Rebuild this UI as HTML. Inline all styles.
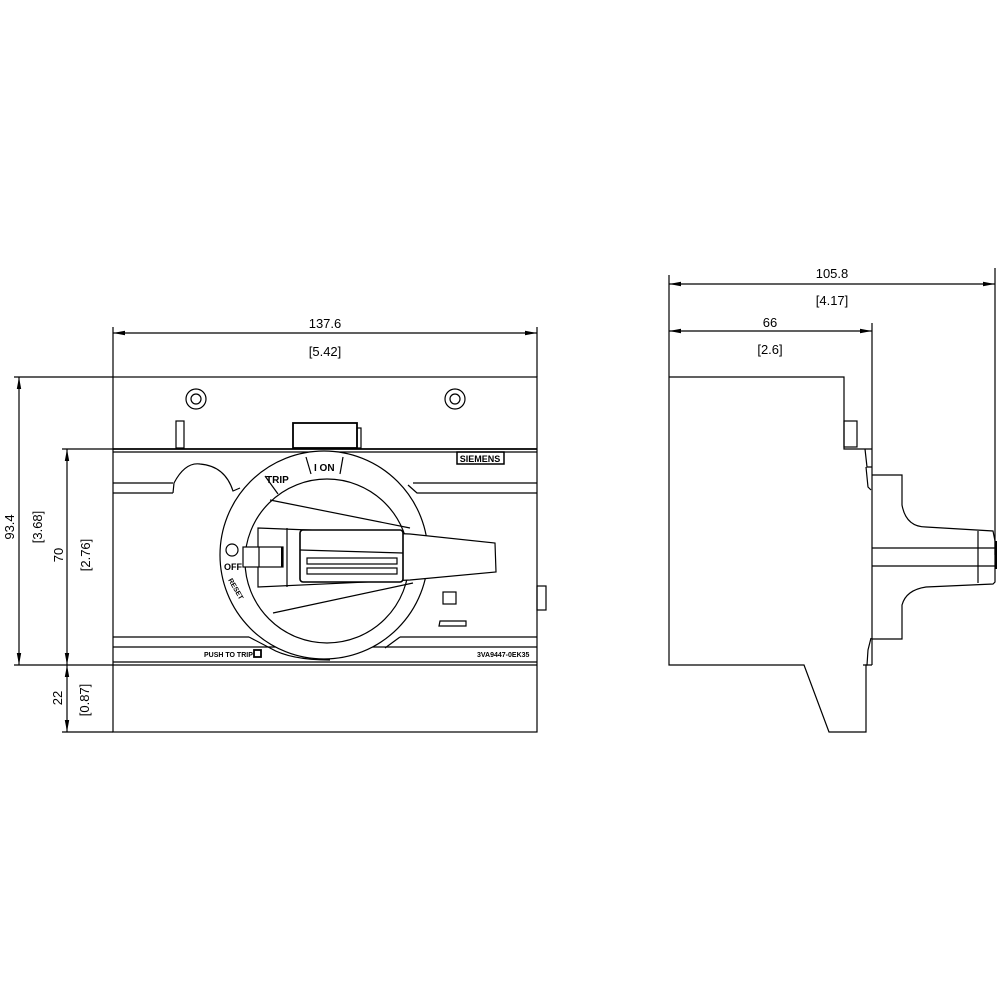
<!DOCTYPE html>
<html><head><meta charset="utf-8"><style>
html,body{margin:0;padding:0;background:#fff;}
svg{display:block;}
text{font-family:"Liberation Sans",sans-serif;fill:#000;}
</style></head><body>
<svg width="1000" height="1000" viewBox="0 0 1000 1000" xmlns="http://www.w3.org/2000/svg">
<defs>
<marker id="a" viewBox="0 0 12 6" refX="12" refY="3" markerWidth="12" markerHeight="6" markerUnits="userSpaceOnUse" orient="auto-start-reverse"><path d="M12,3 L0,0.8 L0,5.2 Z" fill="#000"/></marker>
</defs>
<g fill="none" stroke="#000" stroke-width="1.2">
<!-- FRONT dims -->
<line x1="113" y1="327" x2="113" y2="377"/>
<line x1="537" y1="327" x2="537" y2="377"/>
<line x1="113" y1="333" x2="537" y2="333" marker-start="url(#a)" marker-end="url(#a)"/>
<line x1="14" y1="377" x2="113" y2="377"/>
<line x1="62" y1="449" x2="113" y2="449"/>
<line x1="14" y1="665" x2="113" y2="665"/>
<line x1="62" y1="732" x2="113" y2="732"/>
<line x1="19" y1="377" x2="19" y2="665" marker-start="url(#a)" marker-end="url(#a)"/>
<line x1="67" y1="449" x2="67" y2="665" marker-start="url(#a)" marker-end="url(#a)"/>
<line x1="67" y1="665" x2="67" y2="732" marker-start="url(#a)" marker-end="url(#a)"/>
<!-- FRONT body -->
<rect x="113" y="377" width="424" height="355"/>
<line x1="113" y1="449" x2="537" y2="449" stroke-width="1.8"/>
<line x1="113" y1="452" x2="537" y2="452"/>
<line x1="113" y1="483" x2="173" y2="483"/>
<line x1="113" y1="493" x2="173" y2="493"/>
<path d="M173,493 L174,483 Q185,462 200,464 Q225,466 233,491 L240,488"/>
<line x1="413" y1="483" x2="537" y2="483"/>
<path d="M408,485 L417,493 L537,493"/>
<line x1="113" y1="637" x2="249" y2="637"/>
<line x1="400" y1="637" x2="537" y2="637"/>
<line x1="113" y1="647" x2="537" y2="647"/>
<line x1="113" y1="662" x2="537" y2="662"/>
<line x1="113" y1="665" x2="537" y2="665"/>
<circle cx="196" cy="399" r="10"/><circle cx="196" cy="399" r="5"/>
<circle cx="455" cy="399" r="10"/><circle cx="455" cy="399" r="5"/>
<rect x="176" y="421" width="8" height="27"/>
<rect x="293" y="423" width="64" height="25" stroke-width="1.8"/>
<rect x="357" y="428" width="4" height="20"/>
<rect x="457" y="452" width="47" height="12" stroke-width="1.5"/>
<rect x="443" y="592" width="13" height="12"/>
<path d="M440,621 L466,621 L466,626 L439,626 Z"/>
<rect x="537" y="586" width="9" height="24"/>
<rect x="254" y="650" width="7" height="7" stroke-width="1.8"/>
<!-- dial -->
<circle cx="324" cy="555" r="104" fill="#fff"/>
<circle cx="327" cy="561" r="82"/>
<path d="M249,637 L270,648 Q290,660 330,660"/>
<path d="M400,637 L385,648"/>
<line x1="265" y1="476" x2="278" y2="494"/>
<line x1="306" y1="457" x2="311" y2="474"/>
<line x1="343" y1="457" x2="340" y2="474"/>
<line x1="270" y1="500" x2="410" y2="528"/>
<line x1="273" y1="613" x2="413" y2="583"/>
<!-- handle -->
<path d="M258,528 L410,534 L495,543 L496,572 L410,580 L258,587 Z" fill="#fff"/>
<line x1="287" y1="528" x2="287" y2="587"/>
<rect x="243" y="547" width="40" height="20" fill="#fff"/>
<line x1="259" y1="547" x2="259" y2="567"/>
<line x1="282" y1="547" x2="282" y2="567" stroke-width="2"/>
<rect x="300" y="530" width="103" height="52" rx="3" stroke-width="1.6" fill="#fff"/>
<line x1="300" y1="550" x2="403" y2="553"/>
<rect x="307" y="558" width="90" height="6"/>
<rect x="307" y="568" width="90" height="6"/>
<circle cx="232" cy="550" r="6"/>
<!-- SIDE dims -->
<line x1="669" y1="275" x2="669" y2="377"/>
<line x1="995" y1="268" x2="995" y2="555"/>
<line x1="872" y1="323" x2="872" y2="665"/>
<line x1="669" y1="284" x2="995" y2="284" marker-start="url(#a)" marker-end="url(#a)"/>
<line x1="669" y1="331" x2="872" y2="331" marker-start="url(#a)" marker-end="url(#a)"/>
<!-- SIDE body -->
<path d="M669,377 L844,377 L844,449 L872,449"/>
<path d="M669,377 L669,665 L804,665 L829,732 L866,732 L866,665 L872,665"/>
<rect x="844" y="421" width="13" height="26"/>
<path d="M865,449 L867,467 L872,467"/>
<path d="M866,467 L868,487 L871,490"/>
<path d="M871,638 L868,650 L867,665 L863,665"/>
<path d="M872,475 L902,475 L902,505 Q906,527 926,527 L993,531 L995,541 L995,582 L993,584 L926,587 Q906,590 902,605 L902,639 L872,639"/>
<line x1="978" y1="531" x2="978" y2="583"/>
<line x1="872" y1="548" x2="995" y2="548"/>
<line x1="872" y1="566" x2="995" y2="566"/>
<line x1="996" y1="541" x2="996" y2="569" stroke-width="2"/>
</g>
<!-- text -->
<g font-size="13">
<text x="325" y="328" text-anchor="middle">137.6</text>
<text x="325" y="356" text-anchor="middle">[5.42]</text>
<text x="832" y="278" text-anchor="middle">105.8</text>
<text x="832" y="305" text-anchor="middle">[4.17]</text>
<text x="770" y="327" text-anchor="middle">66</text>
<text x="770" y="354" text-anchor="middle">[2.6]</text>
<text transform="translate(14,527) rotate(-90)" text-anchor="middle">93.4</text>
<text transform="translate(42,527) rotate(-90)" text-anchor="middle">[3.68]</text>
<text transform="translate(63,555) rotate(-90)" text-anchor="middle">70</text>
<text transform="translate(90,555) rotate(-90)" text-anchor="middle">[2.76]</text>
<text transform="translate(62,698) rotate(-90)" text-anchor="middle">22</text>
<text transform="translate(89,700) rotate(-90)" text-anchor="middle">[0.87]</text>
</g>
<g font-size="8" font-weight="bold">
<text x="480" y="462" text-anchor="middle" font-size="9">SIEMENS</text>
<text x="204" y="657" font-size="7">PUSH TO TRIP</text>
<text x="477" y="657" font-size="7">3VA9447-0EK35</text>
<text x="266" y="483" font-size="10">TRIP</text>
<text x="314" y="471" font-size="10">I ON</text>
<text x="224" y="570" font-size="9">OFF</text>
<text transform="translate(228,580) rotate(60)" font-size="7">RESET</text>
</g>
</svg>
</body></html>
